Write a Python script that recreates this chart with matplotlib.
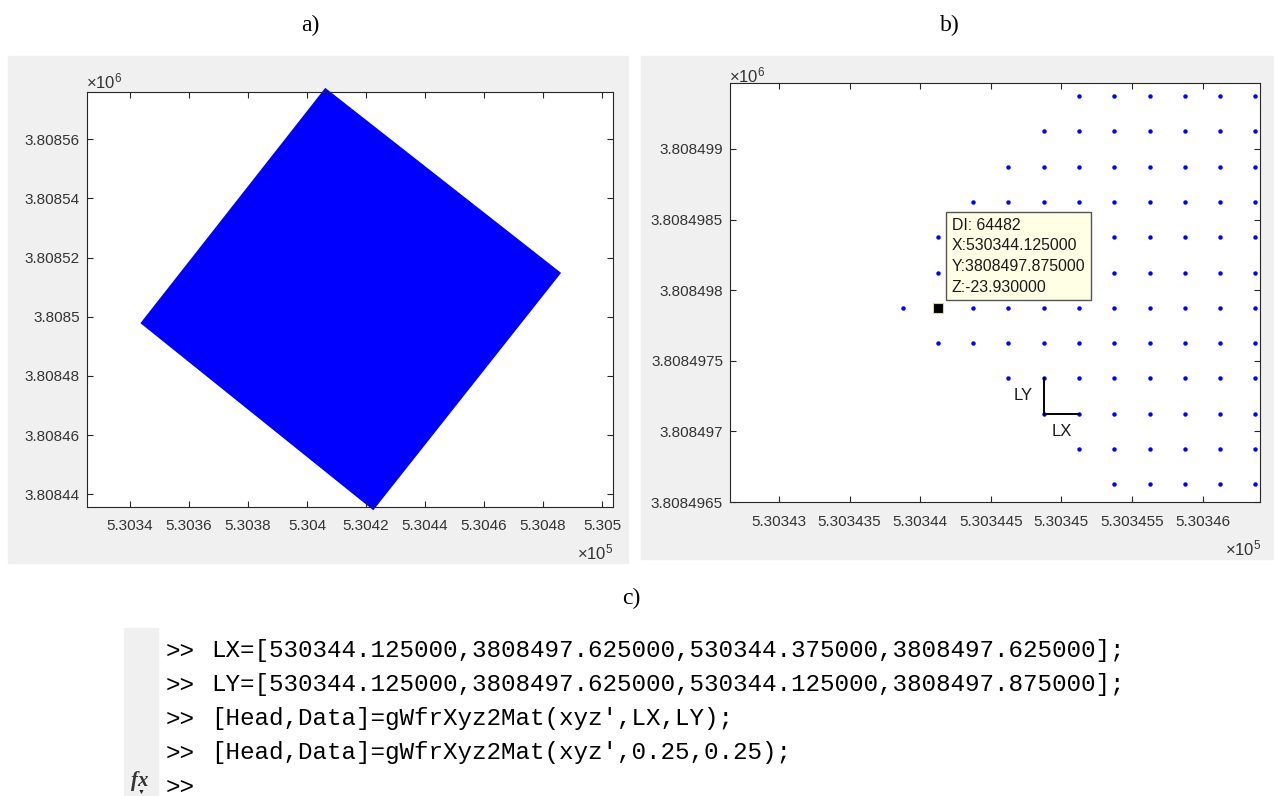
import matplotlib
matplotlib.use('Agg')
import matplotlib.pyplot as plt
from matplotlib.patches import Rectangle

plt.rcParams['mathtext.default'] = 'regular'
plt.rcParams['font.family'] = ['Liberation Sans', 'DejaVu Sans']

W, H = 1278, 796
GREY = '#F0F0F0'
AXC = '#262626'

# a) corners of the whole survey square (easting, northing)
square_x = [530406.2, 530485.7, 530422.4, 530343.9]
square_y = [3808577.0, 3808514.8, 3808435.0, 3808497.9]

a_xticks = [530340, 530360, 530380, 530400, 530420, 530440, 530460, 530480, 530500]
a_xlabels = ['5.3034', '5.3036', '5.3038', '5.304', '5.3042', '5.3044', '5.3046', '5.3048', '5.305']
a_yticks = [3808440, 3808460, 3808480, 3808500, 3808520, 3808540, 3808560]
a_ylabels = ['3.80844', '3.80846', '3.80848', '3.8085', '3.80852', '3.80854', '3.80856']

# b) grid nodes near the west corner (0.25 m spacing)
grid_cols = [530343.875, 530344.125, 530344.375, 530344.625, 530344.875, 530345.125,
             530345.375, 530345.625, 530345.875, 530346.125, 530346.375]
grid_rows = [3808499.375, 3808499.125, 3808498.875, 3808498.625, 3808498.375, 3808498.125,
             3808497.875, 3808497.625, 3808497.375, 3808497.125, 3808496.875, 3808496.625]
row_first = [5, 4, 3, 2, 1, 1, 0, 1, 3, 4, 5, 6]  # first filled column per row

picked = (530344.125, 3808497.875)
tip_lines = ['DI: 64482', 'X:530344.125000', 'Y:3808497.875000', 'Z:-23.930000']
lx_seg = ([530344.875, 530345.125], [3808497.125, 3808497.125])
ly_seg = ([530344.875, 530344.875], [3808497.125, 3808497.375])

b_xticks = [530343, 530343.5, 530344, 530344.5, 530345, 530345.5, 530346]
b_xlabels = ['5.30343', '5.303435', '5.30344', '5.303445', '5.30345', '5.303455', '5.30346']
b_yticks = [3808496.5, 3808497, 3808497.5, 3808498, 3808498.5, 3808499]
b_ylabels = ['3.8084965', '3.808497', '3.8084975', '3.808498', '3.8084985', '3.808499']

# c) command window
prompts = ['>>', '>>', '>>', '>>', '>>']
commands = ["LX=[530344.125000,3808497.625000,530344.375000,3808497.625000];",
            "LY=[530344.125000,3808497.625000,530344.125000,3808497.875000];",
            "[Head,Data]=gWfrXyz2Mat(xyz',LX,LY);",
            "[Head,Data]=gWfrXyz2Mat(xyz',0.25,0.25);",
            ""]


def box(l, t, r, b):
    return [l / W, 1 - b / H, (r - l) / W, (b - t) / H]


def fx(x):
    return x / W


def fy(y):
    return 1 - y / H


def style_axes(ax):
    for s in ax.spines.values():
        s.set_color(AXC)
        s.set_linewidth(0.8)
    ax.tick_params(direction='in', top=True, right=True, length=4, width=0.8,
                   colors=AXC, labelcolor='#333333', labelsize=11)
    ax.tick_params(axis='x', pad=9)
    ax.tick_params(axis='y', pad=5)


fig = plt.figure(figsize=(W / 100, H / 100), dpi=100)

# grey figure backgrounds of the two MATLAB figures
fig.patches.append(Rectangle((fx(8), fy(563)), (628 - 8) / W, (563 - 56) / H,
                             transform=fig.transFigure, color=GREY, zorder=-5))
fig.patches.append(Rectangle((fx(641), fy(559)), (1273 - 641) / W, (559 - 56) / H,
                             transform=fig.transFigure, color=GREY, zorder=-5))

# ---- panel a
ax_a = fig.add_axes(box(87, 92, 613, 507))
ax_a.fill(square_x, square_y, color='#0000FF', lw=1.2, clip_on=False)
ax_a.set_xlim(530325.4, 530503.7)
ax_a.set_ylim(3808435.7, 3808576.0)
ax_a.set_xticks(a_xticks, a_xlabels)
ax_a.set_yticks(a_yticks, a_ylabels)
style_axes(ax_a)
fig.text(fx(86), fy(81), '×10$^{6}$', fontsize=12, color='#333333', ha='left', va='center')
fig.text(fx(613), fy(552), '×10$^{5}$', fontsize=12, color='#333333', ha='right', va='center')

# ---- panel b
ax_b = fig.add_axes(box(730, 83, 1260, 502))
xs, ys = [], []
for yv, first in zip(grid_rows, row_first):
    for xv in grid_cols[first:]:
        xs.append(xv)
        ys.append(yv)
ax_b.plot(xs, ys, 'o', color='#0000FF', markersize=3.2, markeredgewidth=0)
ax_b.plot(*lx_seg, color='black', lw=1.4)
ax_b.plot(*ly_seg, color='black', lw=1.4)
ax_b.annotate('LY', xy=(ly_seg[0][0], sum(ly_seg[1]) / 2), xytext=(-11, 1),
              textcoords='offset pixels', ha='right', va='center', fontsize=12, color='#1a1a1a')
ax_b.annotate('LX', xy=(sum(lx_seg[0]) / 2, lx_seg[1][0]), xytext=(0, -10),
              textcoords='offset pixels', ha='center', va='top', fontsize=12, color='#1a1a1a')
ax_b.plot(*picked, 's', color='black', markersize=7.5, markeredgecolor='#d8d0a0',
          markeredgewidth=0.8, zorder=5)
ax_b.annotate('\n'.join(tip_lines), xy=picked, xytext=(14, 13), textcoords='offset pixels',
              ha='left', va='bottom', fontsize=11.4, linespacing=1.48, color='#1a1a1a', zorder=6,
              bbox=dict(boxstyle='square,pad=0.35', facecolor='#FFFFE6', edgecolor='#555555', lw=1))
ax_b.set_xlim(530342.653, 530346.407)
ax_b.set_ylim(3808496.5, 3808499.467)
ax_b.set_xticks(b_xticks, b_xlabels)
ax_b.set_yticks(b_yticks, b_ylabels)
style_axes(ax_b)
fig.text(fx(729), fy(75), '×10$^{6}$', fontsize=12, color='#333333', ha='left', va='center')
fig.text(fx(1261), fy(548), '×10$^{5}$', fontsize=12, color='#333333', ha='right', va='center')

# panel letters
for lab, x, y in [('a)', 310, 25), ('b)', 950, 25), ('c)', 631, 598)]:
    fig.text(fx(x), fy(y), lab, fontsize=17, family='Liberation Serif', ha='center', va='center')

# ---- panel c: command window snippet
fig.patches.append(Rectangle((fx(124), 0), (158 - 124) / W, (796 - 628) / H,
                             transform=fig.transFigure, color=GREY, zorder=-5))
line_y = [651, 685, 719, 753, 787]
for p, c, y in zip(prompts, commands, line_y):
    fig.text(fx(166), fy(y), p, fontsize=17.5, family='Liberation Mono', ha='left', va='center')
    fig.text(fx(211), fy(y), c, fontsize=17.5, family='Liberation Mono', ha='left', va='center')
fig.text(fx(140), fy(781), 'fx', fontsize=15, family='Liberation Serif', style='italic',
         weight='bold', ha='center', va='center', color='#333333')
fig.text(fx(141), fy(792), '▼', fontsize=5, ha='center', va='center', color='#222222')

fig.savefig('out.png', dpi=100)
